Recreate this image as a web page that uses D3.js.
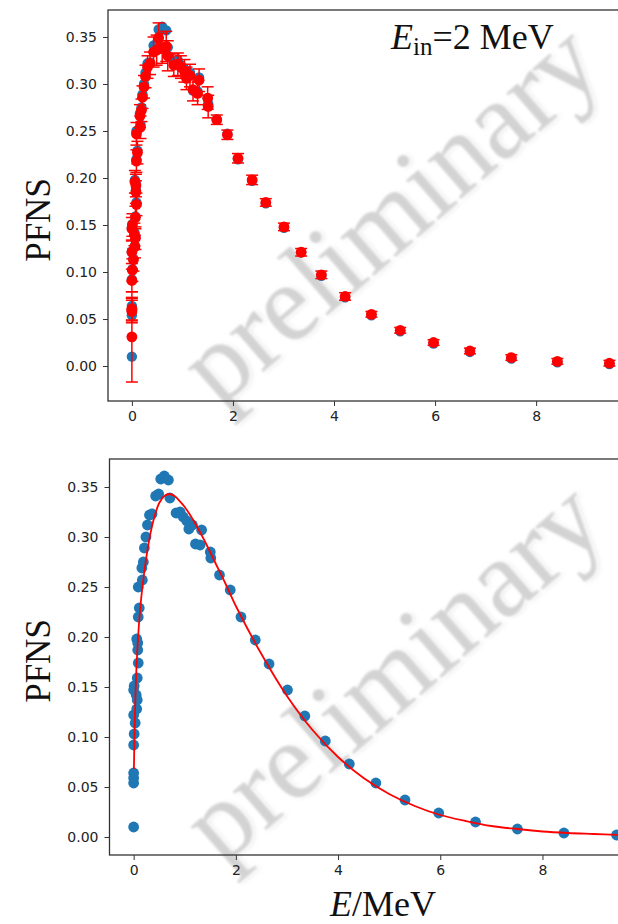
<!DOCTYPE html>
<html><head><meta charset="utf-8">
<script src="https://cdn.jsdelivr.net/npm/d3@7"></script>
<style>
html,body{margin:0;padding:0;background:#fff;overflow:hidden}
svg{display:block}
</style></head><body>
<svg id="fig" width="618" height="924"></svg>
<script>
// Outgoing neutron energy (MeV) of each measured bin
const energy = [0.00,0.00,0.00,0.00,0.00,0.01,0.03,0.00,0.06,0.05,0.07,0.00,0.01,0.07,0.09,0.08,0.08,0.06,0.09,
  0.11,0.09,0.17,0.16,0.19,0.21,0.24,0.27,0.31,0.36,0.43,0.49,0.53,0.60,0.68,0.71,
  0.83,0.91,0.97,1.04,1.08,1.15,1.21,1.30,1.33,1.50,1.51,
  1.68,1.89,2.10,2.38,2.65,3.01,3.35,3.75,4.22,4.74,5.31,5.97,6.69,7.51,8.42,9.45];
// PFNS values (scatter)
const pfns = [0.010,0.054,0.059,0.064,0.092,0.103,0.114,0.122,0.128,0.142,0.137,0.147,0.151,0.159,0.174,0.187,0.194,0.198,0.220,
  0.229,0.250,0.257,0.269,0.275,0.289,0.300,0.312,0.322,0.323,0.341,0.343,0.358,0.361,0.357,0.339,
  0.324,0.325,0.320,0.316,0.308,0.312,0.293,0.292,0.307,0.285,0.279,
  0.262,0.247,0.220,0.197,0.173,0.147,0.121,0.096,0.073,0.054,0.037,0.024,0.015,0.008,0.004,0.002];
// PFNS values with uncertainties (error-bar series)
const pfnsEb = [0.031,0.058,0.060,0.061,0.091,0.102,0.113,0.121,0.127,0.140,0.136,0.146,0.150,0.158,0.172,0.185,0.192,0.196,0.218,
  0.227,0.247,0.254,0.266,0.272,0.286,0.297,0.308,0.318,0.322,0.334,0.336,0.349,0.338,0.340,0.330,
  0.320,0.321,0.318,0.314,0.306,0.309,0.294,0.290,0.304,0.285,0.276,
  0.262,0.246,0.221,0.198,0.174,0.148,0.121,0.097,0.074,0.055,0.038,0.025,0.016,0.009,0.005,0.003];
const pfnsErr = [0.048,0.012,0.012,0.012,0.012,0.012,0.012,0.012,0.012,0.012,0.012,0.012,0.012,0.012,0.012,0.012,0.012,0.012,0.012,
  0.012,0.012,0.012,0.012,0.012,0.012,0.012,0.012,0.012,0.012,0.016,0.016,0.016,0.016,0.016,0.016,
  0.012,0.012,0.012,0.012,0.012,0.012,0.012,0.012,0.012,0.012,0.012,
  0.005,0.005,0.005,0.005,0.004,0.004,0.004,0.004,0.004,0.003,0.003,0.003,0.003,0.003,0.003,0.003];
// Fitted spectrum
const fitEnergy = [0.005,0.02,0.05,0.10,0.15,0.20,0.30,0.40,0.50,0.60,0.70,0.80,0.90,1.00,1.20,1.40,1.60,1.80,2.00,
  2.50,3.00,3.50,4.00,4.50,5.00,5.50,6.00,6.50,7.00,7.50,8.00,8.50,9.00,9.50];
const fitPfns = [0.068,0.110,0.163,0.210,0.240,0.262,0.296,0.319,0.334,0.341,0.343,0.341,0.336,0.330,0.314,0.295,0.274,0.253,0.231,
  0.183,0.141,0.107,0.080,0.059,0.043,0.031,0.022,0.016,0.011,0.008,0.0055,0.004,0.003,0.002];

const yTicks = [0.00,0.05,0.10,0.15,0.20,0.25,0.30,0.35];
const xTicks = [0,2,4,6,8];

const svg = d3.select("#fig");
const defs = svg.append("defs");
const f = defs.append("filter").attr("id","wm").attr("x","-20%").attr("y","-20%").attr("width","140%").attr("height","140%");
f.append("feGaussianBlur").attr("in","SourceAlpha").attr("stdDeviation",2.5).attr("result","b");
f.append("feOffset").attr("in","b").attr("dx",2).attr("dy",2).attr("result","o");
f.append("feFlood").attr("flood-color","#000").attr("flood-opacity",0.10).attr("result","fc");
f.append("feComposite").attr("in","fc").attr("in2","o").attr("operator","in").attr("result","s");
f.append("feGaussianBlur").attr("in","SourceGraphic").attr("stdDeviation",0.8).attr("result","g");
const fm = f.append("feMerge");
fm.append("feMergeNode").attr("in","s");
fm.append("feMergeNode").attr("in","g");

const xDomain = [-0.4725, 9.9225];
const serif = "'Liberation Serif','Times New Roman',serif";
const sans = "'DejaVu Sans',sans-serif";

function panel(o) {
  const x = d3.scaleLinear().domain(xDomain).range([o.left, o.right]);
  const y = d3.scaleLinear().domain(o.yDomain).range([o.bottom, o.top]);
  const g = svg.append("g");

  // watermark
  g.append("text").text("preliminary")
    .attr("transform", `translate(${o.wm[0]},${o.wm[1]}) rotate(-41)`)
    .attr("text-anchor","middle")
    .style("font-family", serif).style("font-size","110px")
    .attr("fill","#d3d3d3").attr("filter","url(#wm)");

  const ax = g.append("g").attr("transform",`translate(0,${o.bottom})`)
    .call(d3.axisBottom(x).tickValues(xTicks).tickFormat(d3.format("d")).tickSize(5).tickPadding(5));
  const ay = g.append("g").attr("transform",`translate(${o.left},0)`)
    .call(d3.axisLeft(y).tickValues(yTicks).tickFormat(d3.format(".2f")).tickSize(5).tickPadding(6));
  [ax, ay].forEach(a => {
    a.select(".domain").remove();
    a.selectAll(".tick line").attr("stroke","#333").attr("stroke-width",1);
    a.selectAll(".tick text").style("font-family",sans).style("font-size","14px").attr("fill","#222");
  });
  g.append("rect").attr("x",o.left).attr("y",o.top)
    .attr("width",o.right-o.left).attr("height",o.bottom-o.top)
    .attr("fill","none").attr("stroke","#333").attr("stroke-width",1.3);

  // y label
  g.append("text").text("PFNS")
    .attr("transform",`translate(50,${o.ylabY}) rotate(-90)`)
    .attr("text-anchor","middle")
    .style("font-family",serif).style("font-size","35px").attr("fill","#111");
  return {g, x, y};
}

const idx = d3.range(energy.length);

// ---- upper panel: data with uncertainties
const upper = panel({left:108, right:633.3, top:10, bottom:401, yDomain:[-0.0372, 0.3787], wm:[413,241], ylabY:220});
upper.g.append("g").selectAll("circle").data(idx).join("circle")
  .attr("cx", i => upper.x(energy[i])).attr("cy", i => upper.y(pfns[i])).attr("r",5.2).attr("fill","#1f77b4");
const eb = upper.g.append("g").attr("stroke","#ff0000").attr("stroke-width",1.5);
eb.selectAll("line.v").data(idx).join("line").attr("class","v")
  .attr("x1", i => upper.x(energy[i])).attr("x2", i => upper.x(energy[i]))
  .attr("y1", i => upper.y(pfnsEb[i]-pfnsErr[i])).attr("y2", i => upper.y(pfnsEb[i]+pfnsErr[i]));
[["lo",-1],["hi",1]].forEach(([k,s]) => {
  eb.selectAll(`line.${k}`).data(idx).join("line").attr("class",k)
    .attr("x1", i => upper.x(energy[i])-6).attr("x2", i => upper.x(energy[i])+6)
    .attr("y1", i => upper.y(pfnsEb[i]+s*pfnsErr[i])).attr("y2", i => upper.y(pfnsEb[i]+s*pfnsErr[i]));
});
upper.g.append("g").selectAll("circle").data(idx).join("circle")
  .attr("cx", i => upper.x(energy[i])).attr("cy", i => upper.y(pfnsEb[i])).attr("r",5.4).attr("fill","#ff0000");

// title
const t = upper.g.append("text").attr("x",391).attr("y",49)
  .style("font-family",serif).style("font-size","36px").attr("fill","#111");
t.append("tspan").text("E").style("font-style","italic");
t.append("tspan").text("in").style("font-size","25px").attr("dy",6);
t.append("tspan").text("=2 MeV").attr("dy",-6);

// ---- lower panel: data with fit
const lower = panel({left:109.5, right:640.7, top:459, bottom:855, yDomain:[-0.018, 0.378], wm:[416,699], ylabY:661});
lower.g.append("g").selectAll("circle").data(idx).join("circle")
  .attr("cx", i => lower.x(energy[i])).attr("cy", i => lower.y(pfns[i])).attr("r",5.4).attr("fill","#1f77b4");
lower.g.append("path")
  .attr("d", d3.line().x(i => lower.x(fitEnergy[i])).y(i => lower.y(fitPfns[i])).curve(d3.curveCatmullRom)(d3.range(fitEnergy.length)))
  .attr("fill","none").attr("stroke","#ff0000").attr("stroke-width",1.8);

// x label
const xl = svg.append("text").attr("x",383).attr("y",916).attr("text-anchor","middle")
  .style("font-family",serif).style("font-size","36px").attr("fill","#111");
xl.append("tspan").text("E").style("font-style","italic");
xl.append("tspan").text("/MeV");
</script>
</body></html>
